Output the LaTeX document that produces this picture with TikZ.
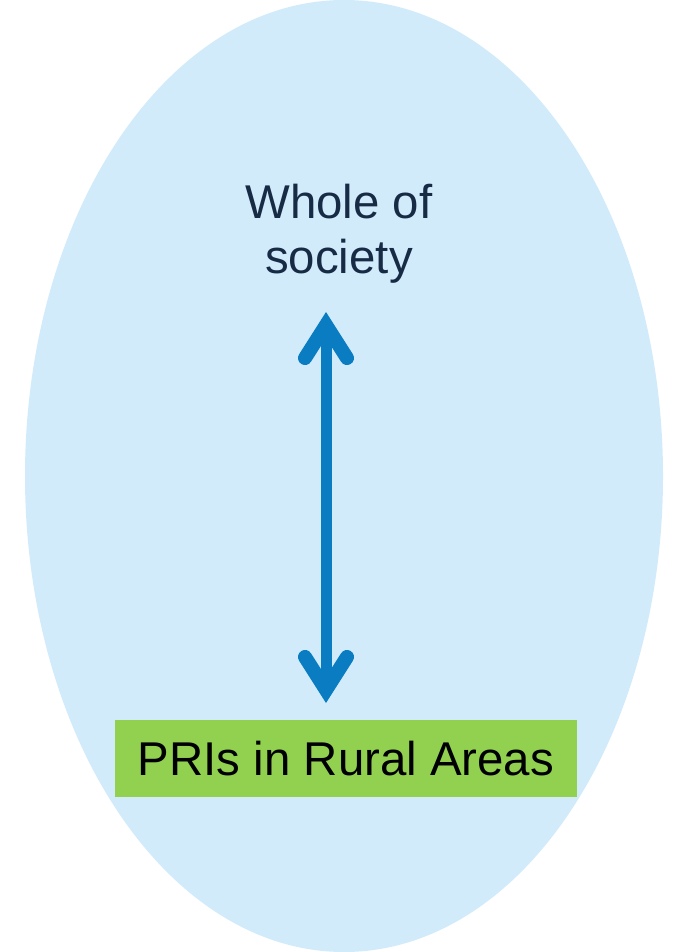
\documentclass[tikz,border=0pt]{standalone}
\usepackage{fontspec}
\setmainfont{Liberation Sans}
\usetikzlibrary{arrows.meta}

\definecolor{bubble}{HTML}{D1EBFB}
\definecolor{navytext}{HTML}{172B45}
\definecolor{arrowblue}{HTML}{0A7DC2}
\definecolor{prigreen}{HTML}{92D050}

\begin{document}
\begin{tikzpicture}[x=1pt, y=-1pt,
  label text/.style={font=\fontsize{47.4}{55}\selectfont, inner sep=0pt},
  biarrow/.style={arrowblue, line width=11pt,
    {Straight Barb[length=33pt, width=42pt, line width=3pt 1, line cap=round, line join=miter]}-{Straight Barb[length=33pt, width=42pt, line width=3pt 1, line cap=round, line join=miter]}}]
  % Fix the page size
  \useasboundingbox (0,0) rectangle (674,952);

  % The big bubble
  \fill[bubble] (344,476) ellipse [x radius=319, y radius=476];

  % Texts
  \node[label text, navytext, align=center, anchor=base] (whole) at (339,273) {Whole of\\society};
  \node[label text, fill=prigreen, minimum width=462pt, minimum height=77pt] (pri) at (346,758.5) {PRIs in Rural Areas};

  % Two-way arrow
  \coordinate (tipup) at (326,312);
  \coordinate (tipdown) at (326,703);
  \draw[biarrow] (tipup) -- (tipdown);
\end{tikzpicture}
\end{document}
